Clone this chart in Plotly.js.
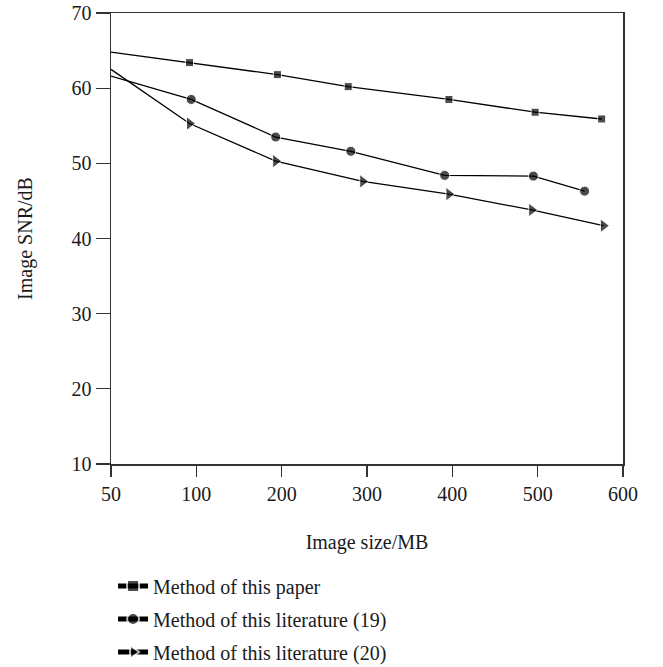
<!DOCTYPE html>
<html>
<head>
<meta charset="utf-8">
<script src="https://cdn.plot.ly/plotly-3.0.1.min.js"></script>
<style>html,body{margin:0;padding:0;background:#fff;}#chart{width:663px;height:667px;}</style>
</head>
<body>
<div id="chart"></div>
<script>
// Tick labels of the x axis (equally spaced on the picture)
const xTickLabels = [50, 100, 200, 300, 400, 500, 600];

// Image size (MB) and SNR (dB) per method
const paperSize = [50, 96, 195, 278, 396, 497, 575];
const paperSNR  = [64.8, 63.4, 61.8, 60.2, 58.5, 56.8, 55.9];

const lit19Size = [50, 97, 193, 281, 391, 495, 555];
const lit19SNR  = [61.6, 58.5, 53.5, 51.6, 48.4, 48.3, 46.3];

const lit20Size = [50, 96, 193, 295, 396, 493, 577];
const lit20SNR  = [62.5, 55.3, 50.3, 47.6, 45.9, 43.8, 41.7];

const seriesNames = ['Method of this paper', 'Method of this literature (19)', 'Method of this literature (20)'];

// Axis is drawn with equally spaced ticks: map a size to its position between ticks
function pos(v) {
  for (let i = 0; i < xTickLabels.length - 1; i++) {
    const a = xTickLabels[i], b = xTickLabels[i + 1];
    if (v <= b || i === xTickLabels.length - 2) return i + (v - a) / (b - a);
  }
}

const FONT = 'Liberation Serif, Times New Roman, serif';
const lineStyle = {color: '#000', width: 1.3};

const traces = [
  {x: paperSize.map(pos), y: paperSNR, name: seriesNames[0], mode: 'lines+markers', legendgroup: 'a',
   line: lineStyle, marker: {symbol: 'square', size: 8, color: '#000'}},
  {x: lit19Size.map(pos), y: lit19SNR, name: seriesNames[1], mode: 'lines+markers', legendgroup: 'b',
   line: lineStyle, marker: {symbol: 'circle', size: 10, color: '#000'}},
  {x: lit20Size.map(pos), y: lit20SNR, name: seriesNames[2], mode: 'lines+markers', legendgroup: 'c',
   line: lineStyle, marker: {symbol: 'triangle-right', size: 12, color: '#000'}}
];
// no marker at the starting point on the axis
traces.forEach(t => { t.marker.size = t.x.map((x, i) => i === 0 ? 0 : t.marker.size); });

const layout = {
  width: 663, height: 667,
  margin: {l: 111, r: 40, t: 13, b: 203, autoexpand: false},
  paper_bgcolor: '#fff', plot_bgcolor: '#fff',
  font: {family: FONT, size: 20, color: '#1a1a1a'},
  showlegend: true,
  xaxis: {
    automargin: false,
    range: [0, 6], tickvals: xTickLabels.map((v, i) => i), ticktext: xTickLabels.map(String),
    showgrid: false, zeroline: false, showline: true, linecolor: '#333', linewidth: 1.5,
    mirror: true, ticks: 'outside', ticklen: 11, tickcolor: '#333', tickwidth: 1.3,
    title: {text: 'Image size/MB', standoff: 31, font: {family: FONT, size: 20}}
  },
  yaxis: {
    automargin: false,
    range: [10, 70], dtick: 10, tick0: 10,
    showgrid: false, zeroline: false, showline: true, linecolor: '#333', linewidth: 1.5,
    mirror: true, ticks: 'outside', ticklen: 14, tickcolor: '#333', tickwidth: 1.3,
    title: {text: 'Image SNR/dB', standoff: 33, font: {family: FONT, size: 20}}
  },
  legend: {
    x: 0.004, xanchor: 'left', y: -0.2273, yanchor: 'top',
    traceorder: 'grouped', tracegroupgap: 4,
    font: {family: FONT, size: 20, color: '#1a1a1a'},
    bgcolor: 'rgba(0,0,0,0)', itemsizing: 'constant'
  }
};

Plotly.newPlot('chart', traces, layout, {staticPlot: true});
</script>
</body>
</html>
